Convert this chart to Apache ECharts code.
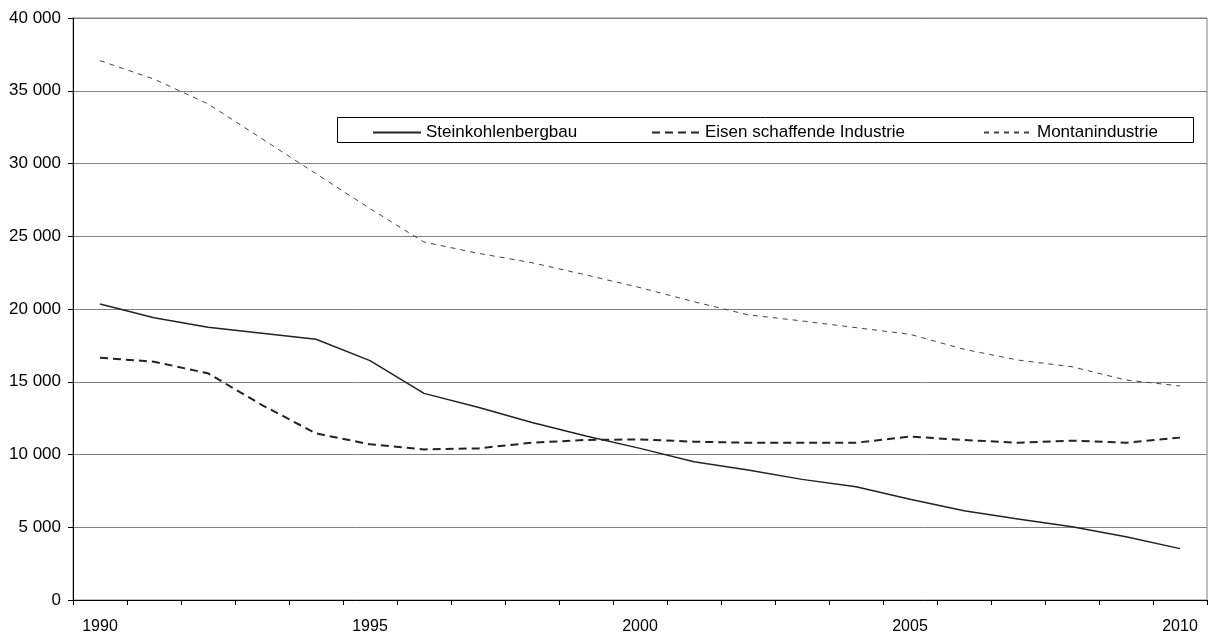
<!DOCTYPE html>
<html>
<head>
<meta charset="utf-8">
<script src="https://cdn.jsdelivr.net/npm/echarts@6/dist/echarts.min.js"></script>
<style>
html,body{margin:0;padding:0;background:#fff;}
#c{width:1208px;height:635px;}
</style>
</head>
<body>
<div id="c"></div>
<script>
var years = ['1990','1991','1992','1993','1994','1995','1996','1997','1998','1999','2000','2001','2002','2003','2004','2005','2006','2007','2008','2009','2010'];
var steinkohle = [20350,19400,18750,18330,17920,16450,14200,13250,12200,11270,10420,9500,8930,8290,7790,6920,6140,5570,5040,4350,3530];
var eisen = [16650,16380,15580,13400,11450,10700,10350,10420,10810,11000,11040,10880,10810,10810,10810,11230,11000,10810,10950,10810,11160];
var montan = [37070,35800,34100,31700,29300,26900,24600,23830,23180,22340,21470,20500,19600,19180,18720,18260,17230,16490,16030,15120,14710];
var seriesNames = ['Steinkohlenbergbau','Eisen schaffende Industrie','Montanindustrie'];

var chart = echarts.init(document.getElementById('c'), null, {renderer:'canvas'});
var font = 'Liberation Sans, Arial, sans-serif';
var legendBase = {
  orient:'horizontal', top:124, padding:0, itemWidth:48, itemHeight:14,
  itemStyle:{opacity:0},
  textStyle:{fontFamily:font, fontSize:17, color:'#000'}, selectedMode:false
};
chart.setOption({
  animation:false,
  backgroundColor:'#fff',
  textStyle:{fontFamily:font},
  grid:{left:73, right:1, top:18, bottom:35, show:true, borderColor:'#808080', borderWidth:1, containLabel:false},
  graphic:[{type:'rect', shape:{x:337.5, y:117.5, width:856, height:25}, style:{fill:'#fff', stroke:'#000', lineWidth:1}, z:0}],
  legend:[
    Object.assign({}, legendBase, {left:372, data:[seriesNames[0]]}),
    Object.assign({}, legendBase, {left:651, data:[seriesNames[1]]}),
    Object.assign({}, legendBase, {left:983, data:[seriesNames[2]]})
  ],
  xAxis:{
    type:'category', data:years, boundaryGap:true,
    axisLine:{lineStyle:{color:'#000', width:1}},
    axisTick:{show:true, interval:0, length:5, lineStyle:{color:'#000'}},
    axisLabel:{interval:4, margin:19, fontSize:16, color:'#000', fontFamily:font},
    splitLine:{show:false}
  },
  yAxis:{
    type:'value', min:0, max:40000, interval:5000,
    axisLine:{show:true, lineStyle:{color:'#000', width:1}},
    axisTick:{show:true, length:5, lineStyle:{color:'#000'}},
    axisLabel:{margin:12, fontSize:17, color:'#000', fontFamily:font,
      formatter:function(v){ return String(v).replace(/\B(?=(\d{3})+(?!\d))/g,' '); }},
    splitLine:{show:true, lineStyle:{color:'#808080', width:1}}
  },
  series:[
    {name:seriesNames[0], type:'line', data:steinkohle, symbol:'none', z:5,
     lineStyle:{color:'#222', width:1.5, type:'solid'}, itemStyle:{color:'#222'}},
    {name:seriesNames[1], type:'line', data:eisen, symbol:'none', z:4,
     lineStyle:{color:'#222', width:2, type:[8,5]}, itemStyle:{color:'#222'}},
    {name:seriesNames[2], type:'line', data:montan, symbol:'none', z:3,
     lineStyle:{color:'#444', width:1, type:[5,5]}, itemStyle:{color:'#444'}}
  ]
});
</script>
</body>
</html>
